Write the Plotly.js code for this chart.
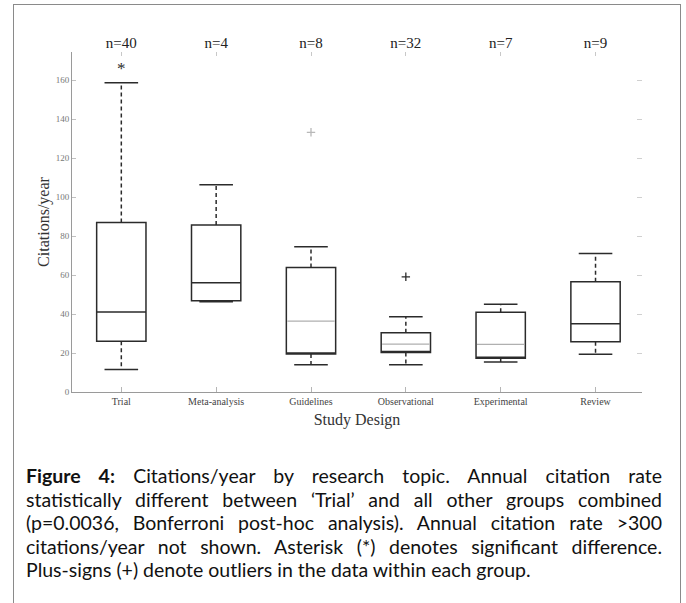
<!DOCTYPE html>
<html>
<head>
<meta charset="utf-8">
<script src="https://cdn.plot.ly/plotly-3.0.1.min.js"></script>
<style>
  html, body { margin: 0; padding: 0; width: 686px; height: 603px; overflow: hidden; background: #fff; }
  #chart { position: absolute; left: 0; top: 0; width: 686px; height: 603px; }
  #frame { position: absolute; left: 13px; top: 4px; width: 666px; height: 700px;
           border-left: 1.5px solid #8a8a8a; border-top: 1.5px solid #8a8a8a; border-right: 1.5px solid #8a8a8a; pointer-events: none; }
  #caption { position: absolute; left: 26px; top: 464px; width: 636px;
             font-family: Lato, "Open Sans", sans-serif; font-size: 19.5px; line-height: 23.5px; color: #111; }
  #caption .ln { text-align: justify; text-align-last: justify; white-space: nowrap; }
  #caption .ln.last { text-align-last: left; }
</style>
</head>
<body>
<div id="chart"></div>
<div id="frame"></div>
<div id="caption"></div>
<script>
// ---- data ----
const categories = ['Trial', 'Meta-analysis', 'Guidelines', 'Observational', 'Experimental', 'Review'];
const nLabels = ['n=40', 'n=4', 'n=8', 'n=32', 'n=7', 'n=9'];
const q1 = [26.0, 46.8, 19.5, 20.3, 17.3, 25.8];
const median = [41.0, 56.1, 36.4, 24.6, 24.4, 35.0];
const q3 = [87.0, 85.6, 63.9, 30.4, 40.9, 56.6];
const lowerWhisker = [11.6, 46.3, 14.0, 14.0, 15.4, 19.3];
const upperWhisker = [158.6, 106.3, 74.5, 38.6, 45.0, 71.1];
const lightMedian = [false, false, true, true, true, false];
const outlierCats = ['Guidelines', 'Observational'];
const outlierVals = [133.2, 59.1];
const sigCats = ['Trial'];
const sigVals = [165.5];
const yTicks = [0, 20, 40, 60, 80, 100, 120, 140, 160];
const captionLines = [
  '<b>Figure 4:</b> Citations/year by research topic. Annual citation rate',
  'statistically different between \u2018Trial\u2019 and all other groups combined',
  '(p=0.0036, Bonferroni post-hoc analysis). Annual citation rate &gt;300',
  'citations/year not shown. Asterisk (*) denotes significant difference.',
  'Plus-signs (+) denote outliers in the data within each group.'
];

// ---- styles ----
const dark = '#2b2b2b';
const serif = 'Liberation Serif, Times New Roman, serif';
const xRange = [-0.52, 5.49];
const yRange = [0, 174.4];

// box bodies (median drawn here only where it is dark)
const bodyMedian = median.map((m, i) => lightMedian[i] ? q1[i] : m);
const body = {
  type: 'box', x: categories, q1: q1, median: bodyMedian, q3: q3,
  lowerfence: q1, upperfence: q3, width: 0.52, whiskerwidth: 0,
  fillcolor: 'rgba(0,0,0,0)', line: {color: dark, width: 1.5},
  boxpoints: false, hoverinfo: 'skip', showlegend: false
};
// light medians
const lc = categories.filter((c, i) => lightMedian[i]);
const lm = median.filter((m, i) => lightMedian[i]);
const lightMed = {
  type: 'box', x: lc, q1: lm, median: lm, q3: lm, lowerfence: lm, upperfence: lm,
  width: 0.5, whiskerwidth: 0, fillcolor: 'rgba(0,0,0,0)',
  line: {color: '#b0b0b0', width: 1.2}, boxpoints: false, hoverinfo: 'skip', showlegend: false
};
// dashed whiskers
const wx = [], wy = [];
categories.forEach((c, i) => {
  wx.push(c, c, null, c, c, null);
  wy.push(q3[i], upperWhisker[i], null, q1[i], lowerWhisker[i], null);
});
const whiskers = {
  type: 'scatter', mode: 'lines', x: wx, y: wy, connectgaps: false,
  line: {color: dark, width: 1.5, dash: '4px,3px'}, hoverinfo: 'skip', showlegend: false
};
// whisker caps
const caps = {
  type: 'scatter', mode: 'markers', x: categories.concat(categories),
  y: upperWhisker.concat(lowerWhisker),
  marker: {symbol: 'line-ew', size: 24, line: {color: dark, width: 1.5}},
  hoverinfo: 'skip', showlegend: false
};
// outliers
const outlierColors = ['#b8b8b8', dark];
const outliers = {
  type: 'scatter', mode: 'markers', x: outlierCats, y: outlierVals,
  marker: {symbol: 'cross-thin-open', size: 6, color: outlierColors, line: {color: outlierColors, width: 1.3}},
  hoverinfo: 'skip', showlegend: false
};
// significance
const sig = {
  type: 'scatter', mode: 'text', x: sigCats, y: sigVals, text: sigCats.map(() => '*'),
  textposition: 'middle center', textfont: {family: serif, size: 17, color: dark},
  hoverinfo: 'skip', showlegend: false
};
// helper trace for top / right mirror axes
const helper = {
  type: 'scatter', mode: 'markers', x: categories, y: median, xaxis: 'x2', yaxis: 'y2',
  marker: {opacity: 0}, hoverinfo: 'skip', showlegend: false
};

const layout = {
  width: 686, height: 603, autosize: false,
  margin: {l: 72, r: 44, t: 52, b: 211},
  paper_bgcolor: '#fff', plot_bgcolor: '#fff',
  showlegend: false, boxmode: 'overlay',
  font: {family: serif, color: '#333'},
  xaxis: {
    type: 'category', categoryarray: categories, categoryorder: 'array', range: xRange,
    showgrid: false, zeroline: false, showline: true, linecolor: '#9a9a9a', linewidth: 1,
    ticks: 'inside', ticklen: 5, tickcolor: '#b5b5b5', tickwidth: 1,
    tickfont: {family: serif, size: 10, color: '#444'},
    title: {text: 'Study Design', font: {family: serif, size: 16, color: '#333'}, standoff: 7}
  },
  yaxis: {
    range: yRange, tickvals: yTicks, ticktext: yTicks.map(String),
    showgrid: false, zeroline: false, showline: true, linecolor: '#9a9a9a', linewidth: 1,
    ticks: 'inside', ticklen: 4, tickcolor: '#c0c0c0', tickwidth: 1,
    tickfont: {family: serif, size: 9, color: '#777'},
    title: {text: 'Citations/year', font: {family: serif, size: 16, color: '#333'}, standoff: 2}
  },
  xaxis2: {
    type: 'category', categoryarray: categories, categoryorder: 'array', range: xRange,
    overlaying: 'x', side: 'top', anchor: 'y2',
    tickvals: categories, ticktext: nLabels,
    showgrid: false, zeroline: false, showline: false,
    ticks: 'inside', ticklen: 4, tickcolor: '#c8c8c8', tickwidth: 1,
    tickfont: {family: serif, size: 15, color: '#222'}
  },
  yaxis2: {
    range: yRange, tickvals: yTicks, overlaying: 'y', side: 'right', anchor: 'x2',
    showticklabels: false, showgrid: false, zeroline: false, showline: false,
    ticks: 'inside', ticklen: 5, tickcolor: '#d0d0d0', tickwidth: 1
  }
};

Plotly.newPlot('chart', [body, lightMed, whiskers, caps, outliers, sig, helper], layout,
  {staticPlot: true, displayModeBar: false});

// caption
const cap = document.getElementById('caption');
captionLines.forEach((t, i) => {
  const d = document.createElement('div');
  d.className = 'ln' + (i === captionLines.length - 1 ? ' last' : '');
  d.innerHTML = t;
  cap.appendChild(d);
});
// shrink font if a line would overflow
let fs = 19.5;
const fits = () => Array.from(cap.children).every(d => d.scrollWidth <= d.clientWidth + 0.5);
while (!fits() && fs > 12) { fs -= 0.25; cap.style.fontSize = fs + 'px'; }
</script>
</body>
</html>
